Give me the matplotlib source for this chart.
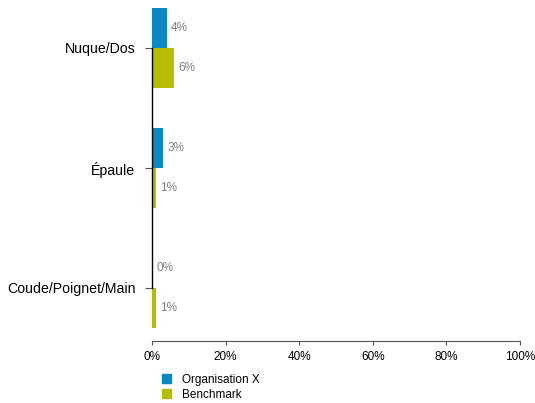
import matplotlib
matplotlib.use("Agg")
from matplotlib import pyplot as plt
from matplotlib.patches import Patch

categories = ["Nuque/Dos", "Épaule", "Coude/Poignet/Main"]
organisation = [4, 3, 0]
benchmark = [6, 1, 1]
series_names = ["Organisation X", "Benchmark"]
x_ticks = [0, 20, 40, 60, 80, 100]

blue = "#0a88c3"
olive = "#b6bd00"

plt.rcParams["font.family"] = ["Liberation Sans", "DejaVu Sans"]

fig = plt.figure(figsize=(5.35, 4.03), dpi=100)
ax = fig.add_axes([152 / 535, 62 / 403, 368 / 535, 341 / 403])

# top category drawn highest
n = len(categories)
pos = [n - 1 - i for i in range(n)]
h = 1 / 3

ax.barh([p + h / 2 for p in pos], organisation, height=h, color=blue)
ax.barh([p - h / 2 for p in pos], benchmark, height=h, color=olive)

for p, v in zip(pos, organisation):
    ax.annotate(f"{v}%", (v, p + h / 2), xytext=(3.2, 0), textcoords="offset points",
                va="center", ha="left", fontsize=8.5, color="#808080")
for p, v in zip(pos, benchmark):
    ax.annotate(f"{v}%", (v, p - h / 2), xytext=(3.2, 0), textcoords="offset points",
                va="center", ha="left", fontsize=8.5, color="#808080")

ax.set_xlim(0, 100)
ax.set_ylim(-53 / 120, n - 1 + 48 / 120)
ax.set_xticks(x_ticks)
ax.set_xticklabels([f"{t}%" for t in x_ticks], fontsize=8.5)
ax.set_yticks(pos)
ax.set_yticklabels(categories, fontsize=10.2)

for s in ["top", "right"]:
    ax.spines[s].set_visible(False)
ax.spines["left"].set_bounds(0, n - 1)
ax.spines["bottom"].set_bounds(0, 100)
ax.spines["left"].set_linewidth(1.0)
ax.spines["bottom"].set_color("#555555")
ax.spines["bottom"].set_linewidth(0.8)
ax.tick_params(axis="y", length=5, width=0.8, color="#555555", pad=7)
ax.tick_params(axis="x", length=3, width=0.8, color="#555555", pad=4)

handles = [Patch(color=blue), Patch(color=olive)]
fig.legend(handles, series_names, loc="upper left", bbox_to_anchor=(162 / 535, 1 - 374 / 403),
           frameon=False, fontsize=8.5, handlelength=0.8, handleheight=0.8,
           handletextpad=0.9, labelspacing=0.25, borderpad=0, borderaxespad=0)

fig.savefig("out.png", dpi=100)
